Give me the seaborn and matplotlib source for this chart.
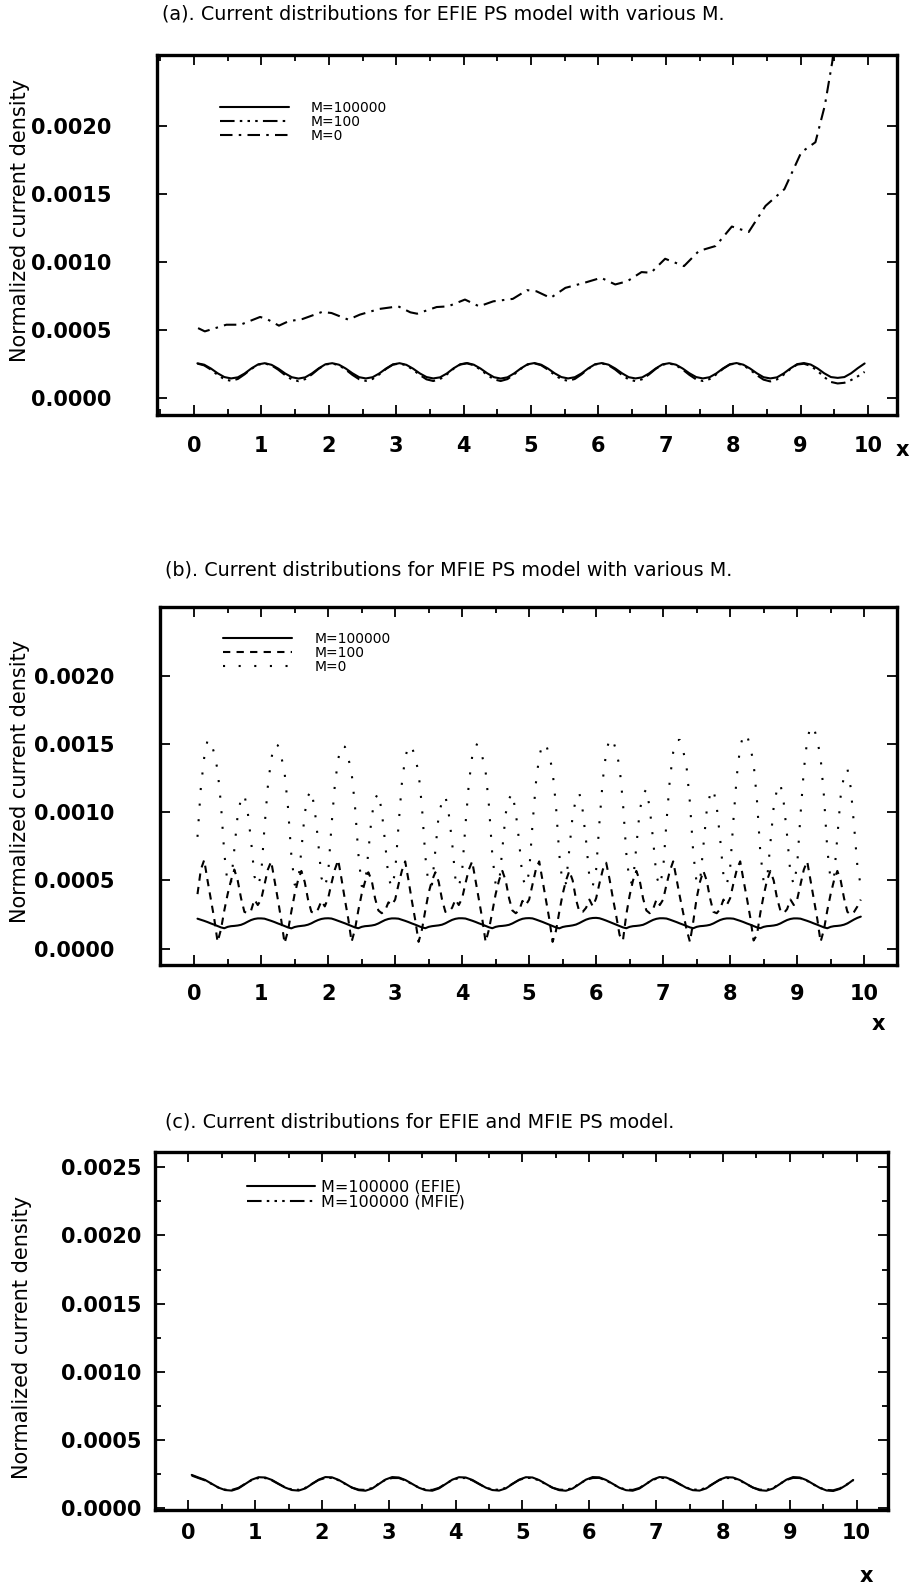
import numpy as np
import pandas as pd
import matplotlib
matplotlib.use("Agg")
import matplotlib.pyplot as plt
from matplotlib.ticker import MultipleLocator, FormatStrFormatter, FixedLocator
import seaborn as sns

# ---------------- data ----------------
titles = ["(a). Current distributions for EFIE PS model with various M.",
          "(b). Current distributions for MFIE PS model with various M.",
          "(c). Current distributions for EFIE and MFIE PS model."]
ylabel_text = "Normalized current density"
xlabel_text = "x"

x_fine = np.round(np.arange(0.05, 10.0, 0.1), 2)      # panels (a),(c) sample positions
x_dense = np.round(np.arange(0.05, 9.999, 0.05), 2)   # panel (b) sample positions

# (a) EFIE
a_m100000 = [
    0.000253, 0.000243, 0.000215, 0.000180, 0.000152, 0.000142, 0.000150, 0.000178, 0.000215, 0.000245,
    0.000254, 0.000242, 0.000214, 0.000179, 0.000151, 0.000141, 0.000150, 0.000179, 0.000216, 0.000246,
    0.000254, 0.000243, 0.000215, 0.000180, 0.000151, 0.000142, 0.000151, 0.000179, 0.000215, 0.000245,
    0.000254, 0.000242, 0.000214, 0.000179, 0.000152, 0.000142, 0.000150, 0.000178, 0.000216, 0.000246,
    0.000255, 0.000243, 0.000215, 0.000180, 0.000151, 0.000141, 0.000150, 0.000179, 0.000216, 0.000246,
    0.000255, 0.000243, 0.000215, 0.000180, 0.000152, 0.000142, 0.000151, 0.000179, 0.000216, 0.000246,
    0.000255, 0.000243, 0.000215, 0.000180, 0.000151, 0.000142, 0.000150, 0.000178, 0.000215, 0.000245,
    0.000254, 0.000243, 0.000215, 0.000180, 0.000152, 0.000142, 0.000151, 0.000179, 0.000216, 0.000246,
    0.000255, 0.000243, 0.000215, 0.000180, 0.000151, 0.000142, 0.000150, 0.000179, 0.000216, 0.000247,
    0.000255, 0.000244, 0.000216, 0.000180, 0.000152, 0.000146, 0.000152, 0.000180, 0.000218, 0.000252,
]
a_m100 = [
    0.000251, 0.000238, 0.000207, 0.000168, 0.000136, 0.000124, 0.000138, 0.000172, 0.000212, 0.000243,
    0.000252, 0.000238, 0.000206, 0.000167, 0.000134, 0.000122, 0.000137, 0.000172, 0.000213, 0.000244,
    0.000252, 0.000239, 0.000207, 0.000168, 0.000136, 0.000124, 0.000138, 0.000172, 0.000212, 0.000243,
    0.000252, 0.000238, 0.000206, 0.000167, 0.000135, 0.000123, 0.000137, 0.000171, 0.000213, 0.000244,
    0.000253, 0.000239, 0.000207, 0.000168, 0.000135, 0.000123, 0.000137, 0.000172, 0.000213, 0.000244,
    0.000253, 0.000239, 0.000207, 0.000168, 0.000136, 0.000124, 0.000138, 0.000172, 0.000213, 0.000244,
    0.000253, 0.000239, 0.000207, 0.000167, 0.000134, 0.000122, 0.000136, 0.000171, 0.000212, 0.000243,
    0.000252, 0.000239, 0.000207, 0.000168, 0.000135, 0.000123, 0.000137, 0.000172, 0.000213, 0.000244,
    0.000253, 0.000239, 0.000206, 0.000166, 0.000133, 0.000120, 0.000135, 0.000170, 0.000212, 0.000244,
    0.000250, 0.000234, 0.000198, 0.000152, 0.000116, 0.000105, 0.000110, 0.000130, 0.000158, 0.000190,
]
a_m0_x = [0.06, 0.16, 0.48, 0.69, 0.98, 1.08, 1.26, 1.40, 1.61, 1.90, 2.04, 2.29, 2.46, 2.75,
          3.03, 3.21, 3.31, 3.60, 3.77, 4.02, 4.23, 4.44, 4.73, 4.94, 5.08, 5.29, 5.51, 5.79,
          6.04, 6.25, 6.43, 6.64, 6.78, 6.99, 7.27, 7.49, 7.74, 7.98, 8.23, 8.48, 8.76, 9.01,
          9.22, 9.36, 9.47, 9.55]
a_m0_y = [0.000512, 0.000488, 0.000537, 0.000537, 0.000594, 0.000579, 0.000530, 0.000562,
          0.000579, 0.000631, 0.000623, 0.000574, 0.000611, 0.000653, 0.000672, 0.000628,
          0.000618, 0.000667, 0.000672, 0.000722, 0.000672, 0.000709, 0.000727, 0.000791,
          0.000783, 0.000734, 0.000808, 0.000845, 0.000882, 0.000833, 0.000857, 0.000924,
          0.000919, 0.001022, 0.000968, 0.001079, 0.001116, 0.001259, 0.001219, 0.001411,
          0.001534, 0.001805, 0.001879, 0.002150, 0.002470, 0.002800]

# (b) MFIE
b_m100000 = [
    0.000220, 0.000212, 0.000204, 0.000195, 0.000185, 0.000176, 0.000166, 0.000156, 0.000150, 0.000160, 0.000165, 0.000167, 0.000170, 0.000175, 0.000185, 0.000198, 0.000210, 0.000218, 0.000222,
    0.000222, 0.000220, 0.000212, 0.000204, 0.000195, 0.000185, 0.000176, 0.000166, 0.000156, 0.000149, 0.000159, 0.000164, 0.000167, 0.000170, 0.000176, 0.000186, 0.000199, 0.000210, 0.000218, 0.000222,
    0.000223, 0.000221, 0.000213, 0.000204, 0.000195, 0.000186, 0.000176, 0.000166, 0.000156, 0.000150, 0.000160, 0.000165, 0.000167, 0.000170, 0.000175, 0.000185, 0.000198, 0.000210, 0.000218, 0.000222,
    0.000222, 0.000220, 0.000212, 0.000204, 0.000195, 0.000185, 0.000176, 0.000166, 0.000156, 0.000150, 0.000160, 0.000165, 0.000168, 0.000171, 0.000176, 0.000186, 0.000199, 0.000211, 0.000219, 0.000223,
    0.000223, 0.000221, 0.000213, 0.000205, 0.000196, 0.000186, 0.000177, 0.000167, 0.000157, 0.000150, 0.000160, 0.000165, 0.000167, 0.000170, 0.000175, 0.000185, 0.000198, 0.000210, 0.000219, 0.000223,
    0.000224, 0.000222, 0.000214, 0.000205, 0.000196, 0.000186, 0.000176, 0.000166, 0.000156, 0.000149, 0.000159, 0.000164, 0.000167, 0.000171, 0.000177, 0.000188, 0.000201, 0.000213, 0.000221, 0.000225,
    0.000226, 0.000223, 0.000215, 0.000206, 0.000196, 0.000186, 0.000176, 0.000166, 0.000156, 0.000150, 0.000160, 0.000165, 0.000167, 0.000170, 0.000175, 0.000186, 0.000199, 0.000211, 0.000219, 0.000223,
    0.000223, 0.000221, 0.000213, 0.000204, 0.000195, 0.000185, 0.000176, 0.000166, 0.000156, 0.000150, 0.000160, 0.000165, 0.000167, 0.000170, 0.000175, 0.000185, 0.000198, 0.000210, 0.000218, 0.000222,
    0.000222, 0.000220, 0.000212, 0.000204, 0.000195, 0.000185, 0.000176, 0.000166, 0.000156, 0.000150, 0.000160, 0.000165, 0.000167, 0.000170, 0.000175, 0.000185, 0.000198, 0.000210, 0.000218, 0.000222,
    0.000222, 0.000220, 0.000212, 0.000204, 0.000195, 0.000185, 0.000176, 0.000166, 0.000156, 0.000150, 0.000160, 0.000165, 0.000167, 0.000170, 0.000176, 0.000186, 0.000200, 0.000214, 0.000226, 0.000235,
]
b_m100 = [
    0.00040, 0.00058, 0.00065, 0.00050, 0.00036, 0.00022, 0.00005, 0.00014, 0.00028, 0.00040, 0.00050, 0.00058, 0.00050, 0.00037, 0.00027, 0.00026, 0.00028, 0.00036, 0.00032,
    0.00036, 0.00047, 0.00058, 0.00064, 0.00050, 0.00036, 0.00021, 0.00004, 0.00013, 0.00027, 0.00040, 0.00050, 0.00057, 0.00049, 0.00036, 0.00027, 0.00026, 0.00029, 0.00035, 0.00031,
    0.00037, 0.00048, 0.00058, 0.00065, 0.00051, 0.00036, 0.00022, 0.00005, 0.00014, 0.00028, 0.00040, 0.00049, 0.00056, 0.00050, 0.00037, 0.00028, 0.00026, 0.00028, 0.00034, 0.00032,
    0.00036, 0.00047, 0.00057, 0.00064, 0.00050, 0.00035, 0.00021, 0.00005, 0.00014, 0.00028, 0.00041, 0.00050, 0.00056, 0.00049, 0.00036, 0.00027, 0.00027, 0.00030, 0.00036, 0.00032,
    0.00037, 0.00048, 0.00058, 0.00064, 0.00050, 0.00036, 0.00022, 0.00005, 0.00014, 0.00027, 0.00040, 0.00050, 0.00057, 0.00050, 0.00037, 0.00028, 0.00026, 0.00028, 0.00035, 0.00032,
    0.00036, 0.00047, 0.00058, 0.00064, 0.00050, 0.00036, 0.00022, 0.00005, 0.00013, 0.00027, 0.00040, 0.00050, 0.00057, 0.00050, 0.00036, 0.00027, 0.00027, 0.00030, 0.00036, 0.00031,
    0.00037, 0.00048, 0.00058, 0.00063, 0.00051, 0.00037, 0.00024, 0.00010, 0.00006, 0.00025, 0.00039, 0.00050, 0.00057, 0.00050, 0.00037, 0.00028, 0.00026, 0.00029, 0.00036, 0.00032,
    0.00036, 0.00047, 0.00057, 0.00064, 0.00051, 0.00038, 0.00026, 0.00014, 0.00005, 0.00020, 0.00037, 0.00049, 0.00057, 0.00050, 0.00037, 0.00027, 0.00026, 0.00029, 0.00036, 0.00032,
    0.00037, 0.00048, 0.00058, 0.00064, 0.00050, 0.00037, 0.00023, 0.00006, 0.00010, 0.00026, 0.00039, 0.00050, 0.00057, 0.00050, 0.00037, 0.00028, 0.00026, 0.00029, 0.00036, 0.00032,
    0.00036, 0.00047, 0.00058, 0.00064, 0.00050, 0.00036, 0.00022, 0.00005, 0.00014, 0.00028, 0.00040, 0.00050, 0.00057, 0.00050, 0.00037, 0.00027, 0.00025, 0.00027, 0.00031, 0.00036,
]
b_m0 = [
    0.00082, 0.00118, 0.00140, 0.00153, 0.00152, 0.00143, 0.00131, 0.00106, 0.00070, 0.00047, 0.00048, 0.00073, 0.00098, 0.00110, 0.00113, 0.00100, 0.00079, 0.00053, 0.00046,
    0.00054, 0.00089, 0.00119, 0.00139, 0.00150, 0.00149, 0.00141, 0.00129, 0.00104, 0.00069, 0.00047, 0.00047, 0.00072, 0.00099, 0.00112, 0.00116, 0.00102, 0.00079, 0.00052, 0.00045,
    0.00055, 0.00090, 0.00120, 0.00139, 0.00149, 0.00148, 0.00140, 0.00129, 0.00105, 0.00070, 0.00046, 0.00046, 0.00071, 0.00097, 0.00110, 0.00114, 0.00101, 0.00078, 0.00052, 0.00045,
    0.00056, 0.00090, 0.00121, 0.00140, 0.00149, 0.00148, 0.00140, 0.00129, 0.00104, 0.00068, 0.00046, 0.00047, 0.00072, 0.00098, 0.00108, 0.00112, 0.00099, 0.00078, 0.00051, 0.00045,
    0.00057, 0.00091, 0.00121, 0.00141, 0.00150, 0.00149, 0.00141, 0.00130, 0.00105, 0.00069, 0.00047, 0.00047, 0.00073, 0.00099, 0.00110, 0.00114, 0.00100, 0.00079, 0.00052, 0.00046,
    0.00056, 0.00091, 0.00121, 0.00141, 0.00150, 0.00150, 0.00142, 0.00130, 0.00105, 0.00069, 0.00047, 0.00048, 0.00073, 0.00098, 0.00110, 0.00114, 0.00101, 0.00079, 0.00052, 0.00046,
    0.00058, 0.00093, 0.00124, 0.00144, 0.00154, 0.00153, 0.00145, 0.00133, 0.00107, 0.00070, 0.00048, 0.00049, 0.00075, 0.00101, 0.00113, 0.00117, 0.00103, 0.00080, 0.00053, 0.00046,
    0.00058, 0.00093, 0.00124, 0.00144, 0.00153, 0.00153, 0.00145, 0.00133, 0.00107, 0.00070, 0.00048, 0.00049, 0.00075, 0.00101, 0.00113, 0.00117, 0.00104, 0.00081, 0.00054, 0.00047,
    0.00059, 0.00095, 0.00127, 0.00148, 0.00157, 0.00157, 0.00148, 0.00136, 0.00109, 0.00071, 0.00049, 0.00050, 0.00077, 0.00104, 0.00117, 0.00121, 0.00107, 0.00083, 0.00055, 0.00047,
    0.00061, 0.00098, 0.00131, 0.00153, 0.00163, 0.00162, 0.00153, 0.00140, 0.00112, 0.00073, 0.00050, 0.00052, 0.00082, 0.00112, 0.00127, 0.00132, 0.00118, 0.00090, 0.00060, 0.00046,
]

# (c) EFIE vs MFIE
c_efie = [
    0.000245, 0.000226, 0.000208, 0.000180, 0.000152, 0.000134, 0.000130, 0.000146, 0.000178, 0.000210,
    0.000228, 0.000226, 0.000208, 0.000180, 0.000152, 0.000134, 0.000130, 0.000146, 0.000178, 0.000210,
    0.000229, 0.000227, 0.000208, 0.000180, 0.000151, 0.000133, 0.000129, 0.000145, 0.000178, 0.000211,
    0.000229, 0.000226, 0.000207, 0.000179, 0.000151, 0.000133, 0.000129, 0.000146, 0.000178, 0.000210,
    0.000228, 0.000226, 0.000208, 0.000180, 0.000152, 0.000134, 0.000130, 0.000146, 0.000178, 0.000210,
    0.000228, 0.000226, 0.000207, 0.000179, 0.000151, 0.000133, 0.000129, 0.000145, 0.000177, 0.000210,
    0.000229, 0.000227, 0.000208, 0.000180, 0.000151, 0.000133, 0.000129, 0.000145, 0.000178, 0.000211,
    0.000229, 0.000226, 0.000207, 0.000179, 0.000151, 0.000133, 0.000130, 0.000146, 0.000178, 0.000210,
    0.000228, 0.000226, 0.000208, 0.000180, 0.000152, 0.000133, 0.000129, 0.000145, 0.000177, 0.000210,
    0.000229, 0.000226, 0.000207, 0.000178, 0.000150, 0.000131, 0.000127, 0.000142, 0.000172, 0.000208,
]
c_mfie = [
    0.000240, 0.000222, 0.000205, 0.000178, 0.000152, 0.000137, 0.000135, 0.000150, 0.000180, 0.000208,
    0.000222, 0.000222, 0.000205, 0.000178, 0.000153, 0.000138, 0.000136, 0.000150, 0.000180, 0.000208,
    0.000223, 0.000223, 0.000205, 0.000178, 0.000152, 0.000137, 0.000135, 0.000149, 0.000180, 0.000209,
    0.000222, 0.000222, 0.000204, 0.000177, 0.000152, 0.000137, 0.000135, 0.000150, 0.000180, 0.000208,
    0.000222, 0.000222, 0.000205, 0.000178, 0.000152, 0.000138, 0.000136, 0.000150, 0.000180, 0.000208,
    0.000223, 0.000222, 0.000204, 0.000177, 0.000151, 0.000137, 0.000135, 0.000149, 0.000179, 0.000208,
    0.000222, 0.000223, 0.000205, 0.000178, 0.000152, 0.000137, 0.000135, 0.000149, 0.000180, 0.000209,
    0.000223, 0.000222, 0.000204, 0.000177, 0.000152, 0.000138, 0.000136, 0.000150, 0.000180, 0.000208,
    0.000222, 0.000222, 0.000205, 0.000178, 0.000152, 0.000137, 0.000135, 0.000149, 0.000179, 0.000208,
    0.000223, 0.000222, 0.000204, 0.000176, 0.000150, 0.000135, 0.000132, 0.000146, 0.000174, 0.000206,
]

assert len(a_m100000) == len(x_fine) == len(a_m100) == len(c_efie) == len(c_mfie)
assert len(b_m100000) == len(x_dense) == len(b_m100) == len(b_m0)
assert len(a_m0_x) == len(a_m0_y)

# ---------------- style ----------------
sns.set_theme(style="ticks")
plt.rcParams['font.family'] = ['DejaVu Sans']
plt.rcParams['axes.linewidth'] = 2.4
plt.rcParams['axes.edgecolor'] = 'black'
plt.rcParams['text.color'] = 'black'
plt.rcParams['axes.labelcolor'] = 'black'
plt.rcParams['xtick.color'] = 'black'
plt.rcParams['ytick.color'] = 'black'
plt.rcParams['figure.facecolor'] = 'white'
plt.rcParams['axes.facecolor'] = 'white'

fig = plt.figure(figsize=(9.11, 15.87), dpi=100)

SOLID = '-'
DASH_DOT3 = (0, (7, 2.5, 1.2, 2.5, 1.2, 2.5, 1.2, 2.5))
DASH_DOT = (0, (6, 3, 1.2, 3))
DASHED = (0, (3.5, 3))
DOTTED = (0, (1, 6.5))

panels = [
    dict(rect=[0.1723, 0.7385, 0.8123, 0.2268], xlim=(-0.55, 10.43), ylim=(-0.000127, 0.00252),
         yticks=[0.0, 0.0005, 0.0010, 0.0015, 0.0020], ypad=33, xpad=15, yminor=False,
         title_xy=(0.1778, 0.9909), ylab_xy=(-0.185, 0.54), xlab_xy=(1.008, -0.097),
         leg_anchor=(0.085, 0.873), leg_fs=10.0, leg_sp=0.0, leg_hl=5.0, leg_tp=1.55),
    dict(rect=[0.1756, 0.3919, 0.8090, 0.2258], xlim=(-0.51, 10.49), ylim=(-0.00012, 0.002507),
         yticks=[0.0, 0.0005, 0.0010, 0.0015, 0.0020], ypad=33, xpad=14, yminor=False,
         title_xy=(0.1811, 0.6408), ylab_xy=(-0.19, 0.513), xlab_xy=(0.975, -0.165),
         leg_anchor=(0.0855, 0.930), leg_fs=10.0, leg_sp=0.0, leg_hl=5.0, leg_tp=1.6),
    dict(rect=[0.1701, 0.0485, 0.8046, 0.2258], xlim=(-0.5, 10.47), ylim=(-0.0000125, 0.002614),
         yticks=[0.0, 0.0005, 0.0010, 0.0015, 0.0020, 0.0025], ypad=9.6, xpad=9.5, yminor=True,
         title_xy=(0.1811, 0.2933), ylab_xy=(-0.181, 0.483), xlab_xy=(0.971, -0.184),
         leg_anchor=(0.125, 0.922), leg_fs=11.5, leg_sp=0.0, leg_hl=4.3, leg_tp=0.35),
]

series = [
    [(x_fine, a_m100000, SOLID, "M=100000"),
     (x_fine, a_m100, DASH_DOT3, "M=100"),
     (a_m0_x, a_m0_y, DASH_DOT, "M=0")],
    [(x_dense, b_m100000, SOLID, "M=100000"),
     (x_dense, b_m100, DASHED, "M=100"),
     (x_dense, b_m0, DOTTED, "M=0")],
    [(x_fine, c_efie, SOLID, "M=100000 (EFIE)"),
     (x_fine, c_mfie, DASH_DOT3, "M=100000 (MFIE)")],
]

for i, (p, ser) in enumerate(zip(panels, series)):
    ax = fig.add_axes(p['rect'])
    for xs, ys, ls, lab in ser:
        df = pd.DataFrame({"x": xs, "y": ys})
        sns.lineplot(data=df, x="x", y="y", ax=ax, color="black", linewidth=1.5,
                     linestyle=ls, label=lab, sort=False, estimator=None)
    ax.set_xlim(*p['xlim'])
    ax.set_ylim(*p['ylim'])
    ax.xaxis.set_major_locator(FixedLocator(list(range(0, 11))))
    ax.xaxis.set_minor_locator(MultipleLocator(0.5))
    ax.yaxis.set_major_locator(FixedLocator(p['yticks']))
    if p['yminor']:
        ax.yaxis.set_minor_locator(MultipleLocator(0.00025))
    ax.yaxis.set_major_formatter(FormatStrFormatter('%.4f'))
    ax.tick_params(which='both', direction='in', top=True, right=True, width=1.3, colors='black')
    ax.tick_params(which='major', length=7)
    ax.tick_params(which='minor', length=4)
    ax.tick_params(axis='x', which='major', pad=p['xpad'], labelsize=15)
    ax.tick_params(axis='y', which='major', pad=p['ypad'], labelsize=15)
    for lab in ax.get_xticklabels() + ax.get_yticklabels():
        lab.set_fontweight('bold')
    ax.set_ylabel(ylabel_text, fontsize=15, color='black')
    ax.yaxis.set_label_coords(*p['ylab_xy'])
    ax.yaxis.label.set_va('center')
    ax.set_xlabel(xlabel_text, fontsize=15, fontweight='bold', color='black')
    ax.xaxis.set_label_coords(*p['xlab_xy'])
    ax.xaxis.label.set_va('center')
    leg = ax.legend(loc='upper left', bbox_to_anchor=p['leg_anchor'], frameon=False,
                    borderpad=0, borderaxespad=0, fontsize=p['leg_fs'],
                    labelspacing=p['leg_sp'], handlelength=p['leg_hl'],
                    handletextpad=p['leg_tp'])
    for h in leg.get_lines():
        h.set_linewidth(1.5)
    for t in leg.get_texts():
        t.set_color('black')
    for s in ax.spines.values():
        s.set_linewidth(2.4)
    fig.text(p['title_xy'][0], p['title_xy'][1], titles[i], fontsize=13.8,
             ha='left', va='center', color='black')

fig.savefig("out.png", dpi=100, facecolor='white')
